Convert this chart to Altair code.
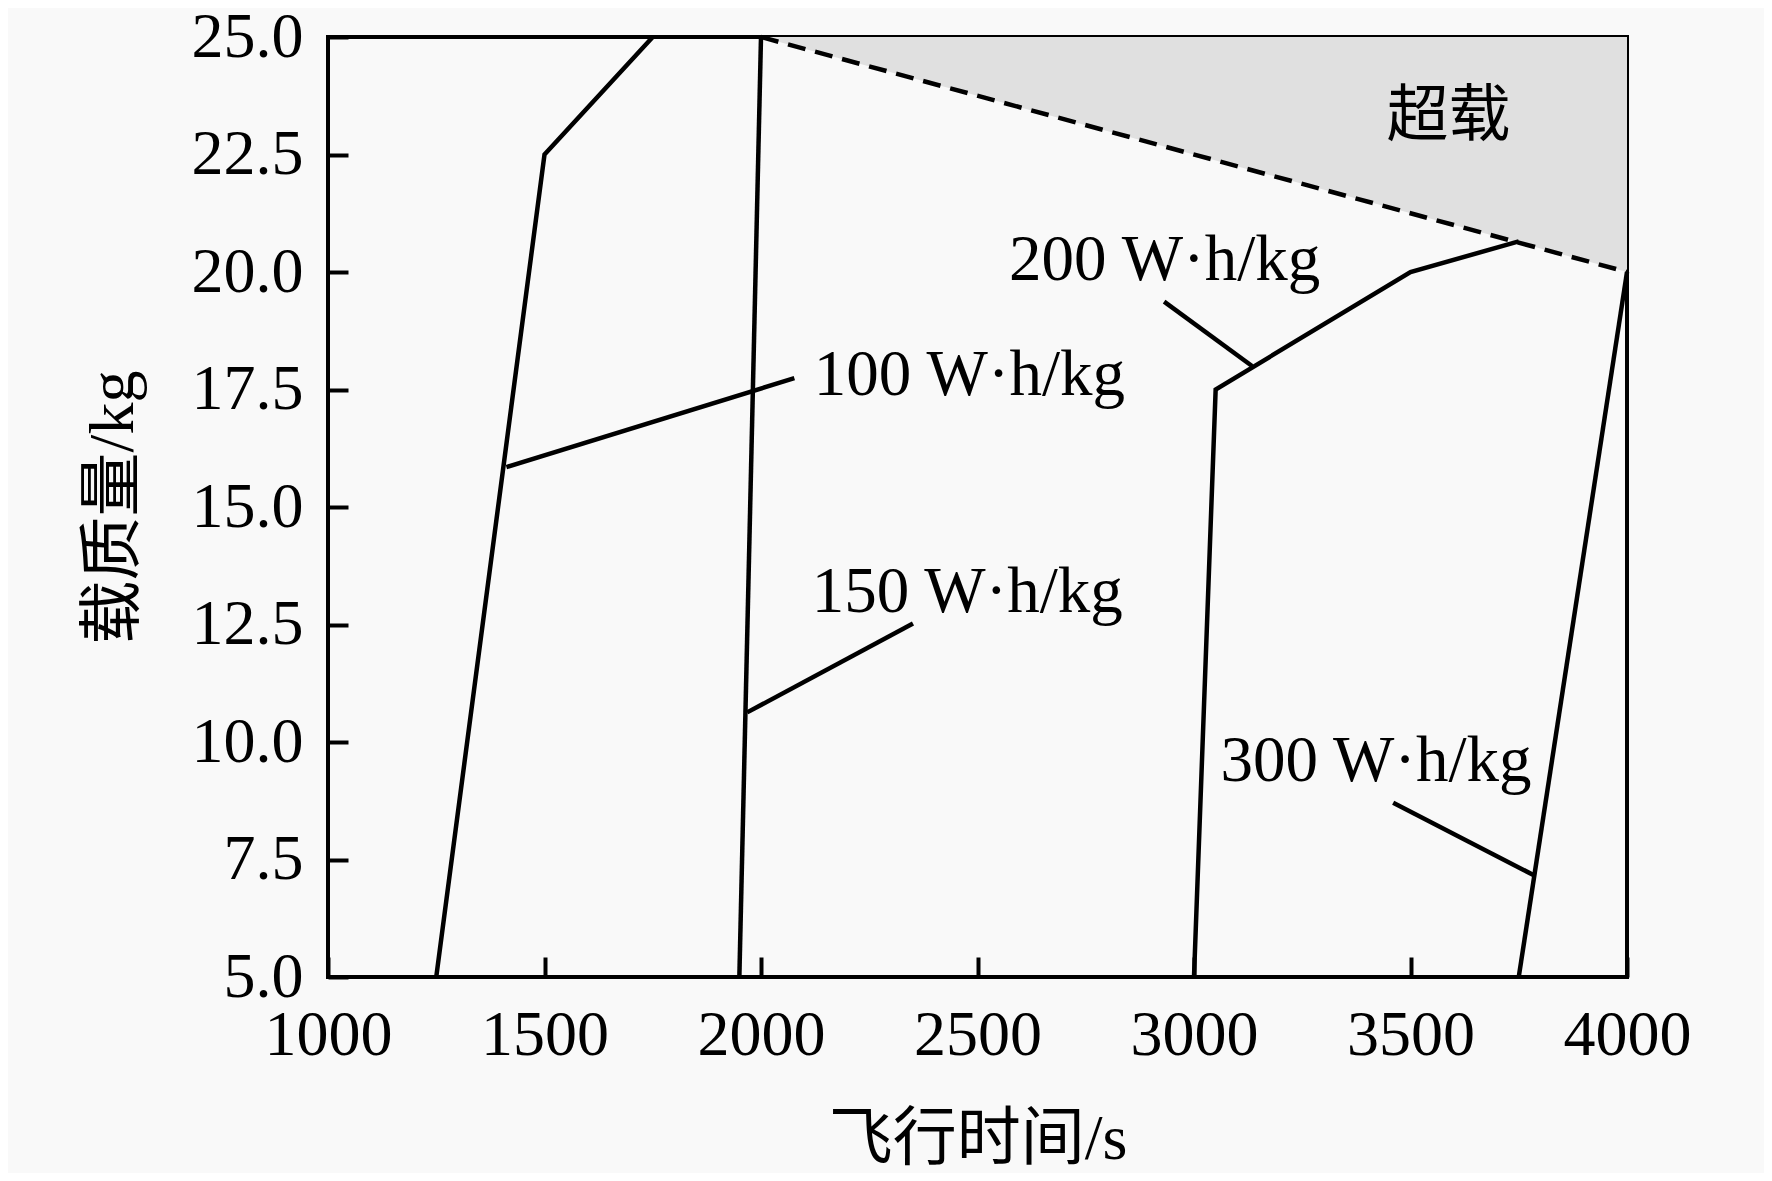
import altair as alt
import pandas as pd

# ---- data ----
s100_x = [1250, 1500, 1750]
s100_y = [5.0, 22.5, 25.0]
s150_x = [1950, 2000]
s150_y = [5.0, 25.0]
s200_x = [3000, 3050, 3500, 3750]
s200_y = [5.0, 17.5, 20.0, 20.65]
s300_x = [3750, 4000]
s300_y = [5.0, 20.0]
limit_x = [2000, 4000]
limit_y = [25.0, 20.0]

labels = ["100 W·h/kg", "150 W·h/kg", "200 W·h/kg", "300 W·h/kg"]
label_x = [2122, 2117, 2573, 3061]
label_y = [17.8, 13.2, 20.25, 9.6]
leader_x = [[1412, 2077], [1968, 2351], [2931, 3134], [3460, 3786]]
leader_y = [[15.85, 17.74], [10.63, 12.52], [19.37, 18.0], [8.71, 7.16]]

zone_text = "超载"
zone_x = [3588]
zone_y = [23.3]

x_ticks = [1000, 1500, 2000, 2500, 3000, 3500, 4000]
y_ticks = [5.0, 7.5, 10.0, 12.5, 15.0, 17.5, 20.0, 22.5, 25.0]

FONT = "Liberation Serif, Noto Sans CJK SC"

rows = []
for name, xs, ys in [("100", s100_x, s100_y), ("150", s150_x, s150_y),
                     ("200", s200_x, s200_y), ("300", s300_x, s300_y)]:
    for i, (a, b) in enumerate(zip(xs, ys)):
        rows.append({"s": name, "x": a, "y": b, "o": i})
for k, (xs, ys) in enumerate(zip(leader_x, leader_y)):
    for i, (a, b) in enumerate(zip(xs, ys)):
        rows.append({"s": f"lead{k}", "x": a, "y": b, "o": i})
lines_df = pd.DataFrame(rows)
limit_df = pd.DataFrame({"x": limit_x, "y": limit_y})
lab_df = pd.DataFrame({"t": labels, "x": label_x, "y": label_y})
zone_df = pd.DataFrame({"t": [zone_text], "x": zone_x, "y": zone_y})

xs = alt.Scale(domain=[1000, 4000], nice=False, zero=False)
ys = alt.Scale(domain=[5, 25], nice=False, zero=False)

xaxis = alt.Axis(values=x_ticks, format="d", title="飞行时间/s", grid=False, domain=False,
                 tickSize=20, offset=-20, tickWidth=4, tickColor="black",
                 labelFont=FONT, labelFontSize=64, labelColor="black", labelPadding=26,
                 titleFont=FONT, titleFontSize=64, titleFontWeight="normal", titleColor="black",
                 titleY=182, titleBaseline="middle", labelFlush=False)
yaxis = alt.Axis(values=y_ticks, format=".1f", title="载质量/kg", grid=False, domain=False,
                 tickSize=20, offset=-20, tickWidth=4, tickColor="black",
                 labelFont=FONT, labelFontSize=64, labelColor="black", labelPadding=25,
                 labelBaseline="middle", labelFlush=False,
                 titleFont=FONT, titleFontSize=64, titleFontWeight="normal", titleColor="black",
                 titleX=-235, titleBaseline="middle")

area = alt.Chart(limit_df).mark_area(color="#e0e0e0", opacity=1).encode(
    x=alt.X("x:Q", scale=xs, axis=xaxis),
    y=alt.Y("y:Q", scale=ys, axis=yaxis),
    y2=alt.datum(25),
)

lines = alt.Chart(lines_df).mark_line(color="black", strokeWidth=4.5).encode(
    x=alt.X("x:Q", scale=xs), y=alt.Y("y:Q", scale=ys),
    detail="s:N", order="o:Q",
)

limit = alt.Chart(limit_df).mark_line(color="black", strokeWidth=4.5, strokeDash=[18, 10]).encode(
    x=alt.X("x:Q", scale=xs), y=alt.Y("y:Q", scale=ys),
)

text = alt.Chart(lab_df).mark_text(font=FONT, fontSize=65, align="left", baseline="middle",
                                   color="black").encode(
    x=alt.X("x:Q", scale=xs), y=alt.Y("y:Q", scale=ys), text="t:N",
)

ztext = alt.Chart(zone_df).mark_text(font=FONT, fontSize=62, align="center", baseline="middle",
                                     color="black").encode(
    x=alt.X("x:Q", scale=xs), y=alt.Y("y:Q", scale=ys), text="t:N",
)

chart = alt.layer(area, lines, limit, text, ztext).properties(
    width=1299, height=940,
    autosize=alt.AutoSizeParams(type="none"),
    padding={"left": 320, "top": 29, "right": 137, "bottom": 196},
    background="#f9f9f9",
).configure_view(stroke="black", strokeWidth=4, fill="#f9f9f9")

chart.save("out.html", embed_options={"renderer": "svg", "actions": False})
